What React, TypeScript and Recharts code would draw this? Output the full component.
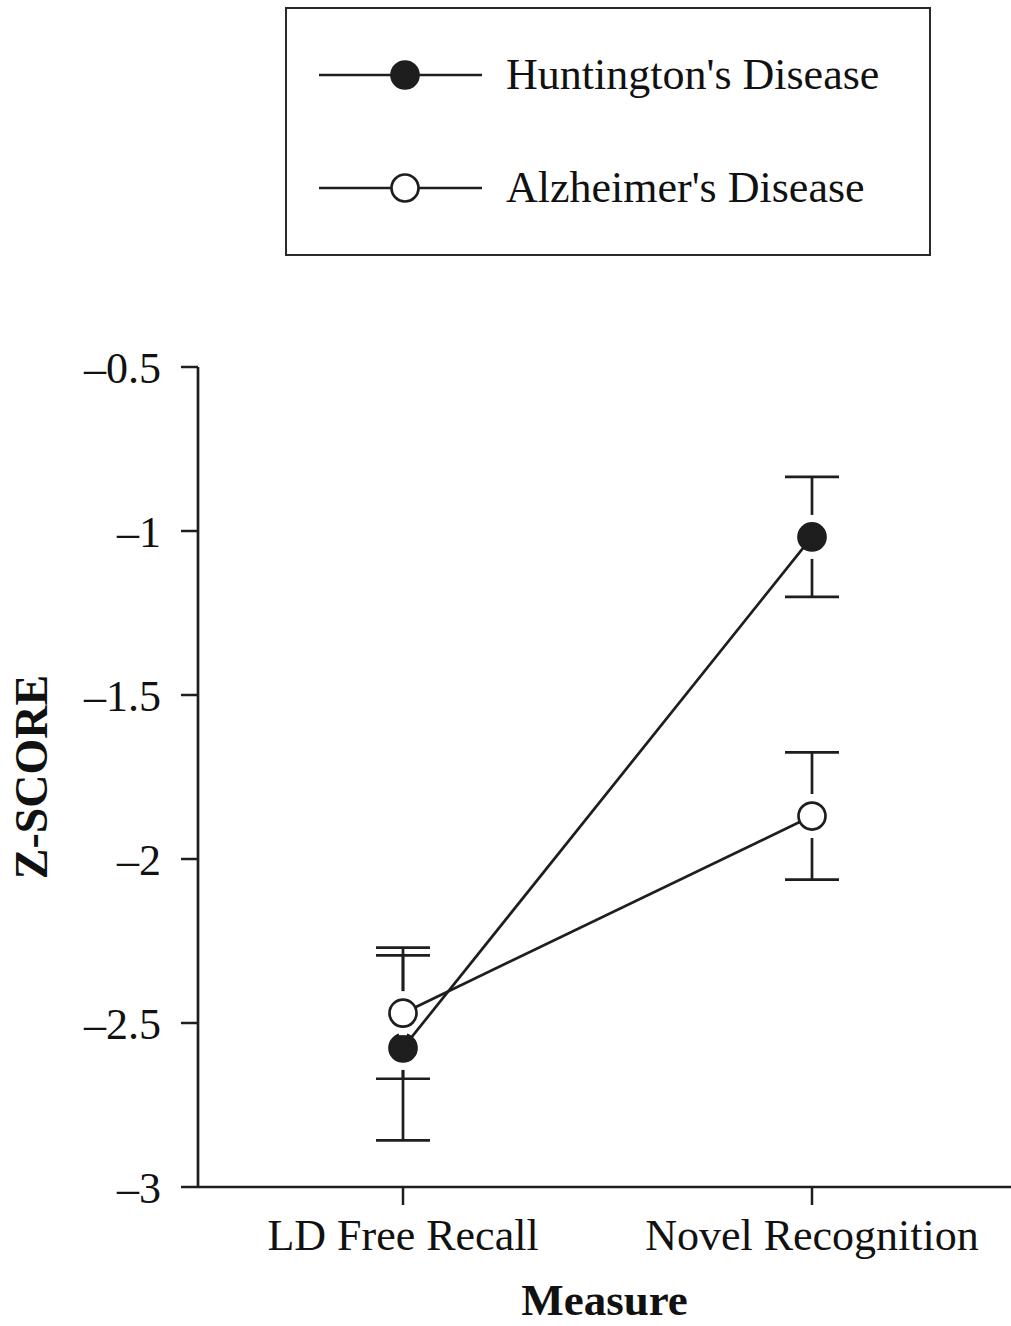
import React from 'react';
import { LineChart, Line, XAxis, YAxis, ErrorBar } from 'recharts';

const categories = ['LD Free Recall', 'Novel Recognition'];
const hdMeans = [-2.576, -1.018];
const hdErrors = [0.282, 0.183];
const adMeans = [-2.47, -1.869];
const adErrors = [0.2, 0.194];
const yTicks = [-3, -2.5, -2, -1.5, -1, -0.5];

const INK = '#1e1e1e';
const FONT = '"Liberation Serif", "Times New Roman", serif';

const data = categories.map((name, i) => ({
  name,
  hd: hdMeans[i],
  hdErr: hdErrors[i],
  ad: adMeans[i],
  adErr: adErrors[i],
}));

const fmt = (v: number) => (v < 0 ? '\u2013' + Math.abs(v) : String(v));

// marker with a small white gap that breaks the error bars around it
const makeDot = (filled: boolean) => (props: any) => {
  const { cx, cy, index } = props;
  return (
    <g key={`dot-${filled ? 'hd' : 'ad'}-${index}`}>
      <rect x={cx - 4} y={cy - 22} width={8} height={44} fill="#fff" />
      <circle cx={cx} cy={cy} r={13.5} fill={filled ? INK : '#fff'} stroke={INK} strokeWidth={2.7} />
    </g>
  );
};

function LegendBox() {
  const rows = [
    { label: "Huntington's Disease", filled: true, y: 76 },
    { label: "Alzheimer's Disease", filled: false, y: 189 },
  ];
  return (
    <div
      style={{
        position: 'absolute',
        left: 285,
        top: 7,
        width: 646,
        height: 249,
        boxSizing: 'border-box',
        border: `2.7px solid #2a2a2a`,
        background: '#fff',
      }}
    >
      {rows.map((r) => (
        <div key={r.label} style={{ position: 'absolute', left: 0, top: r.y - 10 - 30, height: 60, width: 640 }}>
          <svg width={180} height={60} style={{ position: 'absolute', left: 30, top: 0 }}>
            <line x1={2} y1={30} x2={165} y2={30} stroke={INK} strokeWidth={2.7} />
            <circle cx={88} cy={30} r={13.5} fill={r.filled ? INK : '#fff'} stroke={INK} strokeWidth={2.7} />
          </svg>
          <span
            style={{
              position: 'absolute',
              left: 219,
              top: 0,
              lineHeight: '60px',
              fontFamily: FONT,
              fontSize: 44,
              color: '#111',
              whiteSpace: 'nowrap',
            }}
          >
            {r.label}
          </span>
        </div>
      ))}
    </div>
  );
}

export default function App() {
  const tickStyle = { fontFamily: FONT, fontSize: 44, fill: '#111' };
  return (
    <div style={{ position: 'absolute', left: 0, top: 0, width: 1011, height: 1326, background: '#fff', overflow: 'hidden' }}>
      <LegendBox />
      <LineChart width={1011} height={1326} data={data} margin={{ top: 367, right: 0, bottom: 39, left: 0 }}>
        <XAxis
          dataKey="name"
          height={100}
          padding={{ left: 205, right: 199 }}
          axisLine={{ stroke: INK, strokeWidth: 2.7 }}
          tickLine={{ stroke: INK, strokeWidth: 2.5 }}
          tickSize={18}
          tickMargin={14}
          tick={tickStyle}
          interval={0}
          label={({ viewBox }: any) => (
            <text
              x={viewBox.x + viewBox.width / 2}
              y={viewBox.y + 128}
              textAnchor="middle"
              fontFamily={FONT}
              fontWeight="bold"
              fontSize={45}
              fill="#111"
            >
              Measure
            </text>
          )}
        />
        <YAxis
          type="number"
          domain={[-3, -0.5]}
          ticks={yTicks}
          width={198}
          tickFormatter={fmt}
          axisLine={{ stroke: INK, strokeWidth: 2.7 }}
          tickLine={{ stroke: INK, strokeWidth: 2.5 }}
          tickSize={17}
          tickMargin={20}
          tick={tickStyle}
          label={({ viewBox }: any) => {
            const x = viewBox.x + 31;
            const y = viewBox.y + viewBox.height / 2;
            return (
              <text
                x={x}
                y={y}
                transform={`rotate(-90, ${x}, ${y})`}
                textAnchor="middle"
                dominantBaseline="central"
                fontFamily={FONT}
                fontWeight="bold"
                fontSize={46}
                fill="#111"
              >
                Z-SCORE
              </text>
            );
          }}
        />
        <Line dataKey="hd" stroke={INK} strokeWidth={2.7} dot={false} activeDot={false} isAnimationActive={false}>
          <ErrorBar dataKey="hdErr" width={27} stroke={INK} strokeWidth={2.7} direction="y" />
        </Line>
        <Line dataKey="ad" stroke={INK} strokeWidth={2.7} dot={false} activeDot={false} isAnimationActive={false}>
          <ErrorBar dataKey="adErr" width={27} stroke={INK} strokeWidth={2.7} direction="y" />
        </Line>
        <Line dataKey="hd" stroke="none" dot={makeDot(true)} activeDot={false} legendType="none" isAnimationActive={false} />
        <Line dataKey="ad" stroke="none" dot={makeDot(false)} activeDot={false} legendType="none" isAnimationActive={false} />
      </LineChart>
    </div>
  );
}
